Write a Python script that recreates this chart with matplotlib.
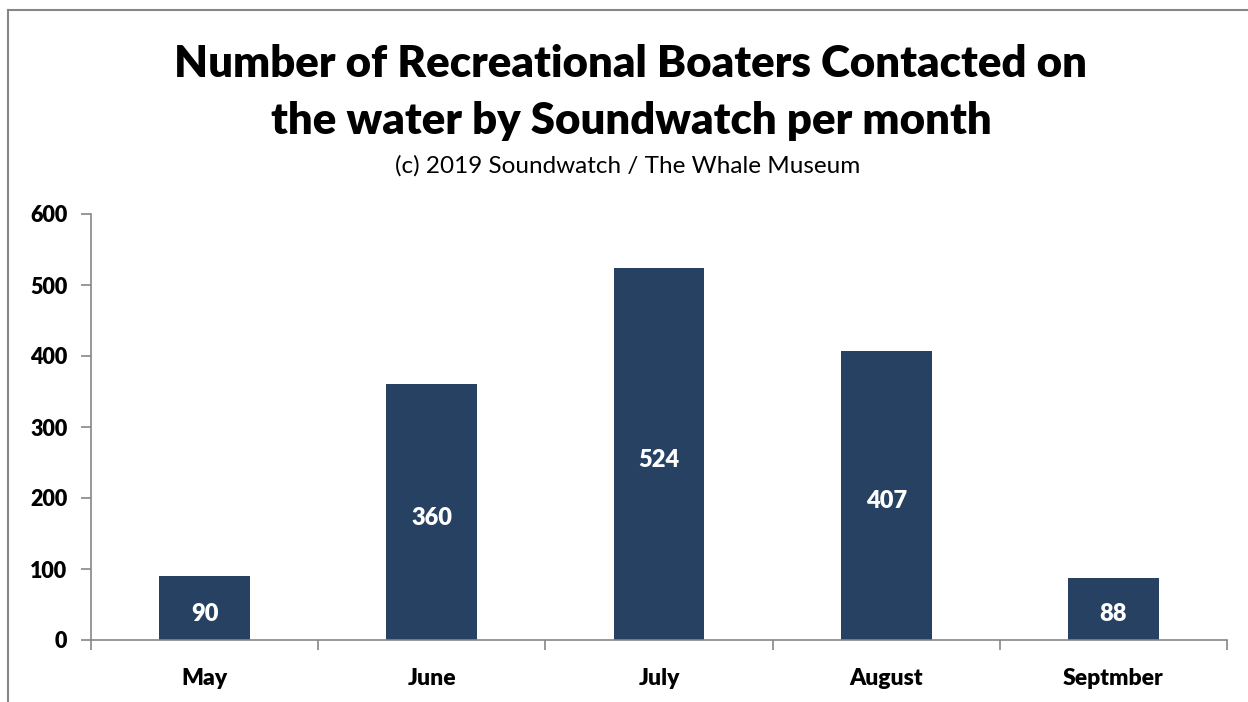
import matplotlib.pyplot as plt
from matplotlib.lines import Line2D

months = ['May', 'June', 'July', 'August', 'Septmber']
boaters = [90, 360, 524, 407, 88]
yticks = [0, 100, 200, 300, 400, 500, 600]

plt.rcParams['font.family'] = ['Lato', 'DejaVu Sans']

bar_color = '#264161'
axis_color = '#868686'
heavy = 'heavy'

fig = plt.figure(figsize=(12.48, 7.02), dpi=100)
ax = fig.add_axes([91 / 1248, 62 / 702, 1136 / 1248, 426 / 702])

x = list(range(len(months)))
bars = ax.bar(x, boaters, width=0.4, color=bar_color)
for xi, v in zip(x, boaters):
    ax.annotate(str(v), (xi, v / 2), xytext=(0, -4), textcoords='offset points',
                ha='center', va='center', color='white',
                fontsize=17, fontweight=heavy)

ax.set_xlim(-0.5, len(months) - 0.5)
ax.set_ylim(0, 600)
ax.set_yticks(yticks)
ax.set_yticklabels([str(t) for t in yticks], fontsize=15.5, fontweight=heavy)
ax.set_xticks(x)
ax.set_xticklabels(months, fontsize=16.5, fontweight=heavy)
ax.tick_params(axis='x', length=0, pad=20)
ax.set_xticks([i - 0.5 for i in range(len(months) + 1)], minor=True)
ax.tick_params(axis='x', which='minor', length=7, color=axis_color, width=1.2)
ax.tick_params(axis='y', length=7, color=axis_color, width=1.2, pad=10)

for s in ['top', 'right']:
    ax.spines[s].set_visible(False)
for s in ['left', 'bottom']:
    ax.spines[s].set_color(axis_color)
    ax.spines[s].set_linewidth(1.2)

fig.text(631 / 1248, 1 - 64 / 702, 'Number of Recreational Boaters Contacted on',
         ha='center', va='center', fontsize=31.5, fontweight=heavy)
fig.text(631 / 1248, 1 - 121 / 702, 'the water by Soundwatch per month',
         ha='center', va='center', fontsize=31.5, fontweight=heavy)
fig.text(628 / 1248, 1 - 166 / 702, '(c) 2019 Soundwatch / The Whale Museum',
         ha='center', va='center', fontsize=17.5)

# chart frame (only left and top edges are inside the crop)
fig.add_artist(Line2D([8 / 1248, 8 / 1248], [0, 1 - 10 / 702],
                      transform=fig.transFigure, color=axis_color, lw=1.5))
fig.add_artist(Line2D([8 / 1248, 1], [1 - 10 / 702, 1 - 10 / 702],
                      transform=fig.transFigure, color=axis_color, lw=1.5))

fig.savefig('out.png', dpi=100)
